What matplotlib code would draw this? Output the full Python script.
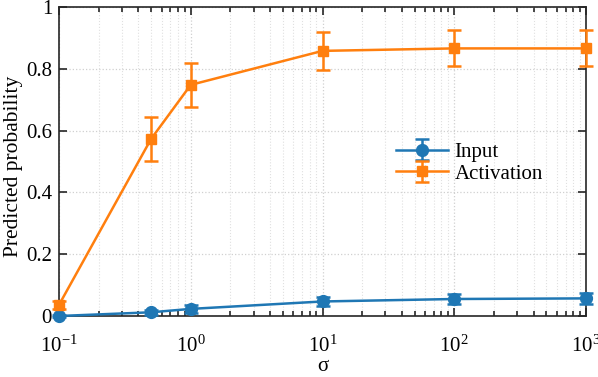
import matplotlib
matplotlib.use("Agg")
import matplotlib.pyplot as plt
from matplotlib.ticker import LogLocator, NullFormatter

sigma = [0.1, 0.5, 1, 10, 100, 1000]
input_mean = [0.0, 0.012, 0.023, 0.047, 0.055, 0.057]
input_err = [0.004, 0.008, 0.012, 0.016, 0.016, 0.018]
act_mean = [0.036, 0.573, 0.748, 0.858, 0.866, 0.866]
act_err = [0.012, 0.070, 0.072, 0.062, 0.058, 0.058]
yticks = [0, 0.2, 0.4, 0.6, 0.8, 1]
ytick_labels = ["0", "0.2", "0.4", "0.6", "0.8", "1"]

plt.rcParams['font.family'] = ['Liberation Serif', 'DejaVu Serif']
plt.rcParams['mathtext.fontset'] = 'stix'

fig = plt.figure(figsize=(5.98, 3.77), dpi=100)
ax = fig.add_axes([59/598, 1-316/377, (586-59)/598, (316-7)/377])

blue = '#1f77b4'
orange = '#ff7f0e'
for y, e, c, m, ms, lab in [(input_mean, input_err, blue, 'o', 8.5, 'Input'),
                            (act_mean, act_err, orange, 's', 7.5, 'Activation')]:
    cont = ax.errorbar(sigma, y, yerr=e, color=c, marker=m, markersize=ms,
                       lw=1.8, capsize=5, capthick=1.8, elinewidth=1.8, label=lab, zorder=3)
    for art in cont.get_children():
        art.set_clip_on(False)

ax.set_xscale('log')
ax.set_xlim(0.1, 1000)
ax.set_ylim(0, 1)
ax.set_yticks(yticks)
ax.set_yticklabels(ytick_labels)
ax.xaxis.set_minor_locator(LogLocator(base=10, subs=range(2, 10), numticks=20))
ax.xaxis.set_minor_formatter(NullFormatter())

ax.grid(True, which='major', linestyle=':', color='#d0d0d0', lw=0.9)
ax.grid(True, which='minor', axis='x', linestyle=':', color='#e0e0e0', lw=0.8)
ax.tick_params(which='both', direction='in', top=True, right=True, labelsize=15,
               color='#262626', width=1.2)
ax.tick_params(which='major', length=6)
ax.tick_params(which='minor', length=3.5)
for s in ax.spines.values():
    s.set_color('#262626')
    s.set_linewidth(1.2)
ax.tick_params(axis='x', pad=14)
ax.tick_params(axis='y', pad=5)

ax.set_xlabel('σ', fontsize=15, labelpad=0)
ax.set_ylabel('Predicted probability', fontsize=15.5)
ax.yaxis.set_label_coords(-0.068, 0.485)

ax.legend(loc='center left', bbox_to_anchor=(0.62, 0.495), frameon=False, fontsize=15,
          handlelength=2.5, handletextpad=0.3, labelspacing=0.1, borderpad=0)

fig.savefig('out.png', dpi=100)
